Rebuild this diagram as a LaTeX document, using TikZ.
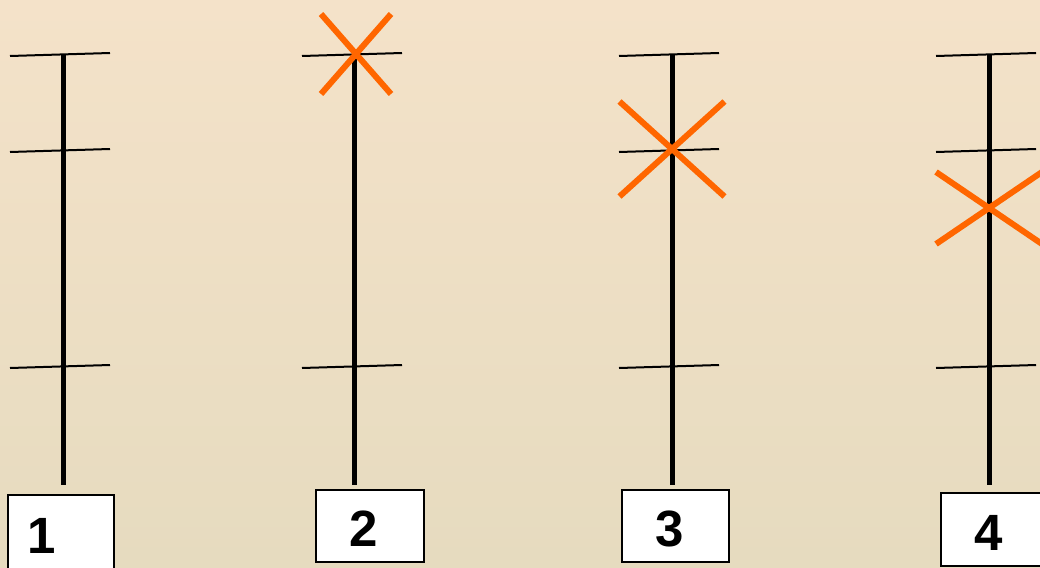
\documentclass[tikz,border=0pt]{standalone}
\usepackage{fontspec}
\setmainfont{Liberation Sans}
\definecolor{bgtop}{HTML}{F4E2C9}
\definecolor{bgmid}{HTML}{F1EBD8}
\definecolor{bgbot}{HTML}{E6DBBF}
\definecolor{crossorange}{HTML}{FF6600}
\tikzset{
  pole/.style={line width=5pt},
  tick/.style={line width=2pt},
  cross/.style={line width=6pt, crossorange},
  numbox/.style={draw, line width=1.8pt, fill=white, inner sep=0pt},
  digit/.style={font=\bfseries\fontsize{51}{51}\selectfont, inner sep=0pt}
}
\begin{document}
\begin{tikzpicture}[x=1pt,y=-1pt]
    \useasboundingbox (0,0) rectangle (1040,567);
    \shade[top color=bgtop, middle color=bgmid, bottom color=bgbot] (0,0) rectangle (1040,567);

    % poles
    \foreach \x in {63, 354, 672, 989}
    \draw[pole] (\x,55) -- (\x,485);

    % cross arms
    \foreach \x in {63, 672, 989}
    \foreach \y in {54.5, 150.5, 366.5}
    \draw[tick] (\x-53,\y+1.5) -- (\x+47,\y-1.5);
    \foreach \y in {54.5, 366.5}
    \draw[tick] (354-52,\y+1.5) -- (354+48,\y-1.5);

    % crosses
    \foreach \cx/\cy/\dx/\dy in {356/54/35/40, 672/149/52.5/47.5, 989/208/53/36}
    {
      \draw[cross] (\cx-\dx,\cy-\dy) -- (\cx+\dx,\cy+\dy);
      \draw[cross] (\cx+\dx,\cy-\dy) -- (\cx-\dx,\cy+\dy);
    }

    % boxes
    \node[numbox, minimum width=106pt, minimum height=74pt] (box1) at (61,532) {};
    \node[numbox, minimum width=108pt, minimum height=72pt] (box2) at (370,526) {};
    \node[numbox, minimum width=107pt, minimum height=72pt] (box3) at (675.5,526) {};
    \node[numbox, minimum width=106pt, minimum height=73pt] (box4) at (994,529.5) {};
    \node[digit] (num1) at (42,536) {1};
    \node[digit] (num2) at (364,529) {2};
    \node[digit] (num3) at (670,529) {3};
    \node[digit] (num4) at (989,533) {4};
\end{tikzpicture}
\end{document}
